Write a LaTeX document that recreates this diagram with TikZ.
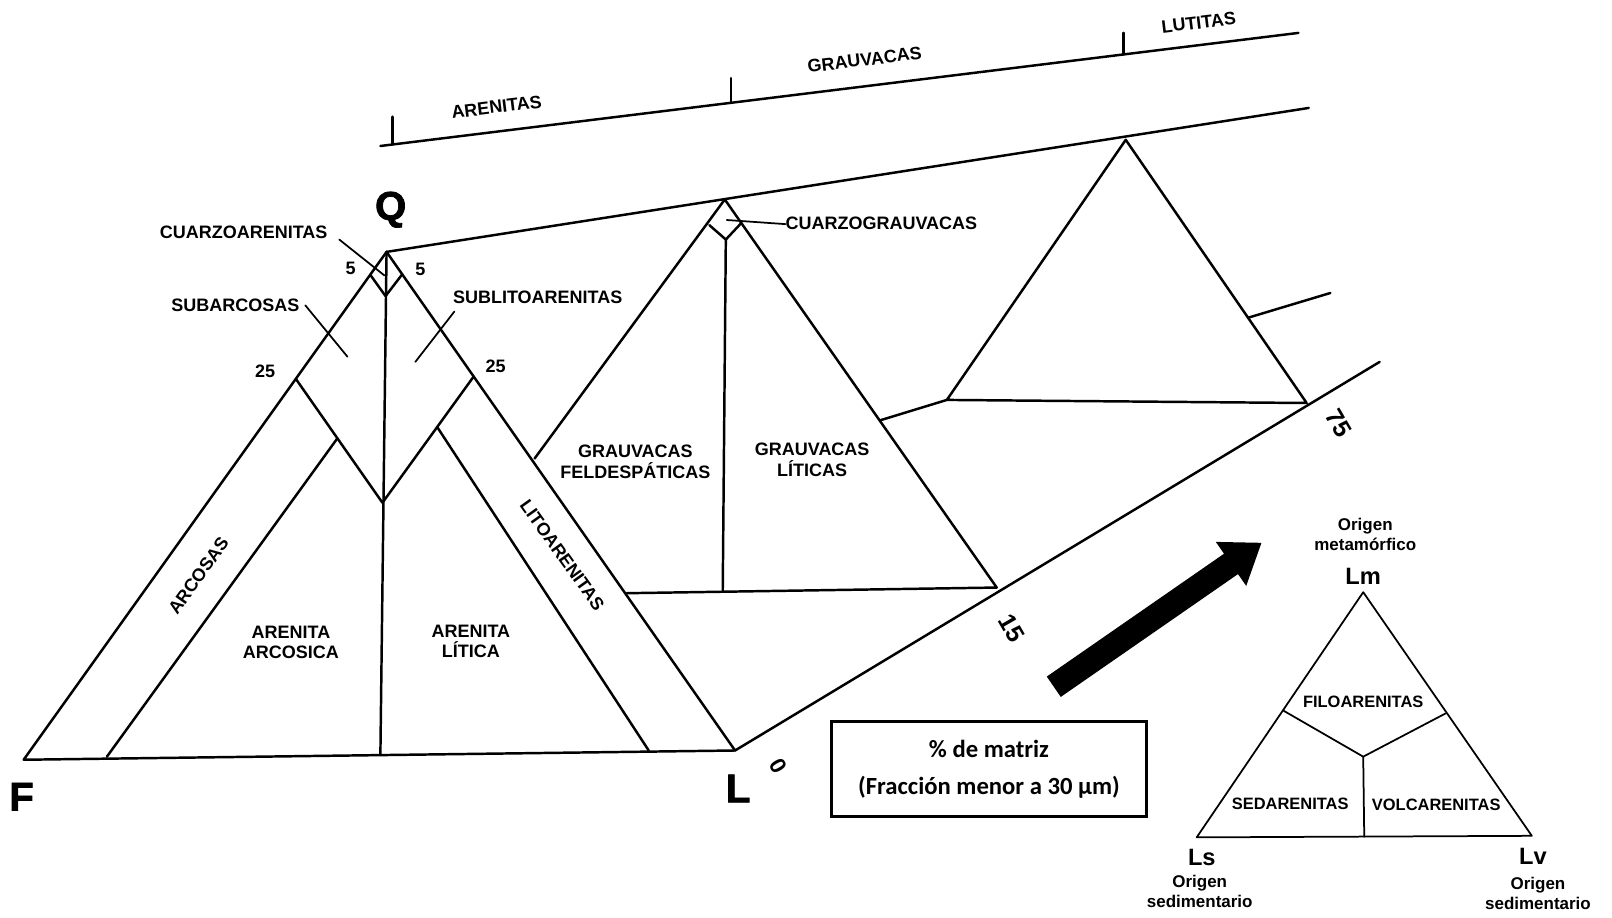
\documentclass[tikz,border=0pt]{standalone}
\usepackage{fontspec}
\setmainfont{Liberation Sans}
\newfontfamily\calibrifont{Carlito}
\newfontfamily\heavyfont{Liberation Sans}[UprightFeatures={FakeBold=1.8},BoldFeatures={FakeBold=1.8}]
\usetikzlibrary{calc}
\begin{document}
\begin{tikzpicture}[x=1pt,y=-1pt,
  ln/.style={line width=2.4pt, line cap=round, line join=round},
  lnthin/.style={line width=1.7pt, line cap=round, line join=round},
  lab/.style={font=\bfseries\fontsize{17.5}{20}\selectfont, align=center, inner sep=0pt},
  slab/.style={font=\bfseries\fontsize{16}{20}\selectfont, align=center, inner sep=0pt},
  big/.style={font=\heavyfont\bfseries\fontsize{39}{42}\selectfont, inner sep=0pt},
  vtx/.style={font=\bfseries\fontsize{23}{25}\selectfont, inner sep=0pt},
  num/.style={font=\bfseries\fontsize{24}{26}\selectfont, inner sep=0pt, rotate=-60},
  matbox/.style={draw, line width=3pt, minimum width=307pt, minimum height=92pt,
    align=center, font=\calibrifont\bfseries\fontsize{24}{36}\selectfont}]
\useasboundingbox (0,0) rectangle (1568,892);

% ---------- front triangle Q F L ----------
\coordinate (Q) at (376,245);
\coordinate (F) at (23,739);
\coordinate (L) at (715,730);
\coordinate (Qb) at (370,734);
\coordinate (P5L) at ($(Q)!0.045!(F)$);
\coordinate (P5R) at ($(Q)!0.045!(L)$);
\coordinate (V5) at (375,288);
\coordinate (P25L) at ($(Q)!0.25!(F)$);
\coordinate (P25R) at ($(Q)!0.25!(L)$);
\coordinate (V25) at (372,489);
\coordinate (AL1) at ($(P25L)!0.48!(V25)$);
\coordinate (AL2) at (104,736);
\coordinate (LR1) at ($(P25R)!0.40!(V25)$);
\coordinate (LR2) at (631,730);

\draw[ln] (F) -- (Q) -- (L) -- cycle;
\draw[ln] (Q) -- (Qb);
\draw[ln] (P5L) -- (V5) -- (P5R);
\draw[ln] (P25L) -- (V25) -- (P25R);
\draw[ln] (AL1) -- (AL2);
\draw[ln] (LR1) -- (LR2);

% ---------- upper tie lines ----------
\coordinate (U1) at (370,142);
\coordinate (U2) at (1263,32);
\coordinate (W2) at (1273,105);
\draw[ln] (U1) -- (U2);
\draw[ln] (Q) -- (W2);
\coordinate (T1) at ($(U1)!0.0134!(U2)$);
\coordinate (T2) at ($(U1)!0.382!(U2)$);
\coordinate (T3) at ($(U1)!0.8096!(U2)$);
\draw[ln] (T1) -- ++(0,-27);
\draw[ln] (T2) -- ++(0,-24);
\draw[ln] (T3) -- ++(0,-21);

% ---------- middle triangle (15 %) ----------
\coordinate (M) at (705,194);
\coordinate (ML) at (520,446);
\coordinate (MR) at (969.5,571.5);
\coordinate (MB) at (609.6,577);
\coordinate (MDL) at (690,219);
\coordinate (MDR) at (721,217);
\coordinate (MDB) at (706,233);
\coordinate (MC) at (703,575);
\draw[ln] (ML) -- (M) -- (MR) -- (MB);
\draw[ln] (MDL) -- (MDB) -- (MDR);
\draw[ln] (MDB) -- (MC);

% ---------- back triangle (75 %) ----------
\coordinate (B) at (1095,136);
\coordinate (BL) at (921,389);
\coordinate (BR) at (1271,392);
\draw[ln] (B) -- (BL) -- (BR) -- cycle;
\coordinate (MRc) at ($(M)!0.5695!(MR)$);
\draw[ln] (MRc) -- (BL);
\coordinate (BRc) at ($(B)!0.676!(BR)$);
\coordinate (BRe) at (1294,285);
\draw[ln] (BRc) -- (BRe);

% ---------- diagonal (matrix axis) ----------
\coordinate (D2) at (1342,352);
\draw[ln] (L) -- (D2);

% ---------- leaders ----------
\coordinate (c1a) at (330,233); \coordinate (c1b) at (374,268);
\coordinate (s1a) at (297,297); \coordinate (s1b) at (338,347);
\coordinate (s2a) at (442,303); \coordinate (s2b) at (404,352);
\coordinate (g1a) at (707,214); \coordinate (g1b) at (764,218);
\draw[lnthin] (c1a) -- (c1b);
\draw[lnthin] (s1a) -- (s1b);
\draw[lnthin] (s2a) -- (s2b);
\draw[lnthin] (g1a) -- (g1b);

% ---------- labels ----------
\node[big] (lQ) at (380,204) {Q};
\node[big] (lF) at (21,775) {F};
\node[big] (lL) at (718,767) {L};
\node[lab] (cuarzo) at (237,226) {CUARZOARENITAS};
\node[lab] (subarc) at (229,297) {SUBARCOSAS};
\node[lab] (sublito) at (523,289) {SUBLITOARENITAS};
\node[lab] (n5a) at (341,261) {5};
\node[lab] (n5b) at (409,262) {5};
\node[lab] (n25a) at (258,361) {25};
\node[lab] (n25b) at (482,356) {25};
\node[lab, rotate=54.5] (arcosas) at (193,560) {ARCOSAS};
\node[lab, rotate=-54.5] (litoar) at (547,540) {LITOARENITAS};
\node[lab] (arearc) at (283,625) {ARENITA\\ARCOSICA};
\node[lab] (arelit) at (458,624) {ARENITA\\LÍTICA};
\node[lab] (gfeld) at (618,449) {GRAUVACAS\\FELDESPÁTICAS};
\node[lab] (glit) at (790,447) {GRAUVACAS\\LÍTICAS};
\node[lab, anchor=west] (cgrau) at (764,217) {CUARZOGRAUVACAS};
\node[lab, rotate=7] (tarenitas) at (483,104) {ARENITAS};
\node[lab, rotate=7] (tgrau) at (841,58) {GRAUVACAS};
\node[lab, rotate=7] (tlut) at (1166,22) {LUTITAS};
\node[num] (n15) at (984,611) {15};
\node[num] (n75) at (1302,412) {75};
\node[num, font=\bfseries\fontsize{22}{24}\selectfont] (n0) at (757,745) {0};

% ---------- matrix box ----------
\node[matbox] (box) at (962,748) {\% de matriz\\(Fracción menor a 30 µm)};

% ---------- big arrow ----------
\fill (1018.2,658.1) -- (1190.6,538.6) -- (1182.6,527.1) -- (1227,528)
      -- (1212.2,569.9) -- (1204.2,558.4) -- (1031.8,677.9) -- cycle;

% ---------- small triangle Lm Ls Lv ----------
\coordinate (Lm) at (1326,576);
\coordinate (Ls) at (1164,814.5);
\coordinate (Lv) at (1490,813);
\coordinate (Yc) at (1326,736);
\coordinate (Y1) at (1248,691);
\coordinate (Y2) at (1406,694);
\coordinate (Y3) at (1327,814);
\draw[lnthin] (Lm) -- (Ls) -- (Lv) -- cycle;
\draw[lnthin] (Y1) -- (Yc) -- (Y2);
\draw[lnthin] (Yc) -- (Y3);
\node[vtx] (tLm) at (1326,561) {Lm};
\node[vtx] (tLs) at (1169,834) {Ls};
\node[vtx] (tLv) at (1491,833) {Lv};
\node[slab, font=\bfseries\fontsize{16.5}{20}\selectfont] (oLm) at (1328,520) {Origen\\metamórfico};
\node[slab, font=\bfseries\fontsize{16.5}{20}\selectfont] (oLs) at (1167,867) {Origen\\sedimentario};
\node[slab, font=\bfseries\fontsize{16.5}{20}\selectfont] (oLv) at (1496,869) {Origen\\sedimentario};
\node[slab] (filo) at (1326,683) {FILOARENITAS};
\node[slab] (sed) at (1255,782) {SEDARENITAS};
\node[slab] (volc) at (1397,783) {VOLCARENITAS};
\end{tikzpicture}
\end{document}
